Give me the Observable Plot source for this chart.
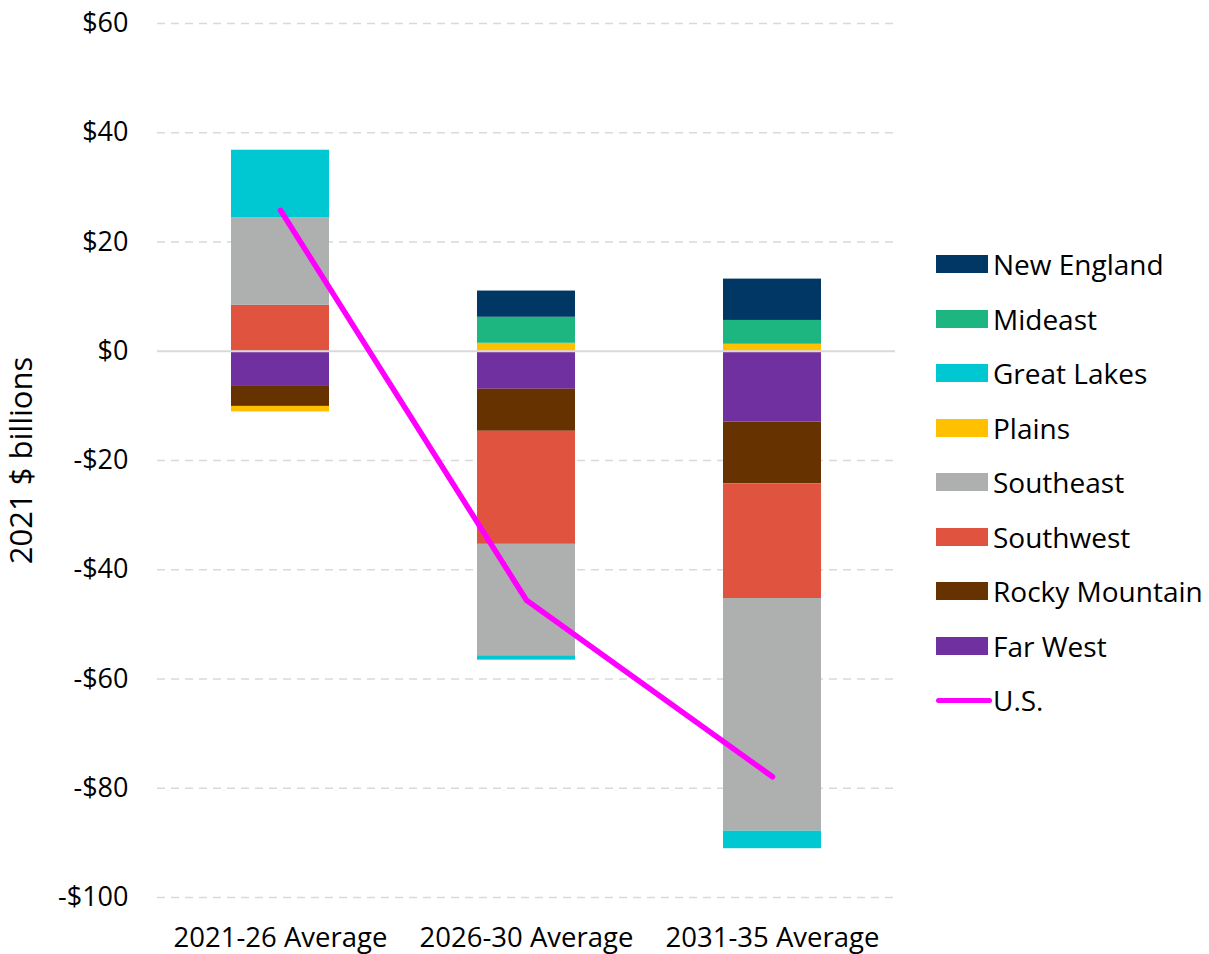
<!DOCTYPE html>
<html>
<head>
<meta charset="utf-8">
<script src="https://cdn.jsdelivr.net/npm/d3@7"></script>
<script src="https://cdn.jsdelivr.net/npm/@observablehq/plot@0.6"></script>
<style>
  html, body { margin: 0; padding: 0; background: #fff; }
  #wrap { position: relative; width: 1209px; height: 954px; font-family: "Open Sans", sans-serif; }
  #legend { position: absolute; left: 936px; top: 237px; }
  .row { display: flex; align-items: center; height: 54.5px; font-size: 28px; color: #000; white-space: nowrap; }
  .sw { width: 52px; height: 18px; margin-right: 5px; flex: none; }
  .ln { width: 56px; height: 5.5px; border-radius: 3px; margin-right: 1px; flex: none; }
</style>
</head>
<body>
<div id="wrap"><div id="chart"></div><div id="legend"></div></div>
<script>
// Categories
const periods = ["2021-26 Average", "2026-30 Average", "2031-35 Average"];
// Series (stack order, bottom-to-top from zero)
const regions = ["Far West", "Rocky Mountain", "Southwest", "Southeast", "Plains", "Great Lakes", "Mideast", "New England"];
const colors = ["#7030A0", "#663300", "#E0533F", "#AEB0B0", "#FFC000", "#00C8D2", "#1DB580", "#003764"];
// Values, 2021 $ billions, per period
const farWest     = [-6.3, -6.95, -12.97];
const rockyMtn    = [-3.8, -7.7, -11.3];
const southwest   = [8.4, -20.7, -21.0];
const southeast   = [16.0, -20.4, -42.6];
const plains      = [-1.0, 1.46, 1.28];
const greatLakes  = [12.4, -0.8, -3.2];
const mideast     = [0, 4.76, 4.36];
const newEngland  = [0, 4.8, 7.57];
const usTotal     = [25.8, -45.6, -77.9];
const yTicks = [-100, -80, -60, -40, -20, 0, 20, 40, 60];

const series = [farWest, rockyMtn, southwest, southeast, plains, greatLakes, mideast, newEngland];
const rows = [];
regions.forEach((r, i) => periods.forEach((p, j) => rows.push({period: p, region: r, value: series[i][j]})));
const usRows = periods.map((p, j) => ({period: p, value: usTotal[j]}));

const fmt = d => d < 0 ? `-$${-d}` : `$${d}`;

const chart = Plot.plot({
  width: 920,
  height: 954,
  marginTop: 23,
  marginBottom: 57,
  marginLeft: 157,
  marginRight: 25,
  style: {fontFamily: "'Open Sans', sans-serif", fontSize: "27px", color: "#000", background: "#fff"},
  x: {domain: periods, paddingInner: 0.6, paddingOuter: 0.3, label: null},
  y: {domain: [-100, 60], label: null},
  color: {domain: regions, range: colors},
  marks: [
    Plot.gridY(yTicks.filter(d => d !== 0), {stroke: "#d9d9d9", strokeOpacity: 1, strokeWidth: 1.5, strokeDasharray: "8,6"}),
    Plot.barY(rows, {x: "period", y: "value", fill: "region"}),
    Plot.ruleY([0], {stroke: "#d9d9d9", strokeWidth: 2}),
    Plot.line(usRows, {x: "period", y: "value", stroke: "#ff00ff", strokeWidth: 5.5, strokeLinecap: "round", strokeLinejoin: "round"}),
    Plot.axisY(yTicks, {tickSize: 0, tickPadding: 29, tickFormat: fmt, fontSize: 27, label: null}),
    Plot.axisY([], {tickSize: 0, fontSize: 31, label: "2021 $ billions", labelAnchor: "center", labelArrow: "none", labelOffset: 148}),
    Plot.axisX({tickSize: 0, tickPadding: 30, fontSize: 27.5, label: null})
  ]
});
document.getElementById("chart").appendChild(chart);

// Legend (reverse of stack order, then the U.S. line)
const legend = document.getElementById("legend");
[...regions].reverse().forEach(r => {
  const row = document.createElement("div");
  row.className = "row";
  row.innerHTML = `<div class="sw" style="background:${colors[regions.indexOf(r)]}"></div><span>${r}</span>`;
  legend.appendChild(row);
});
const usRow = document.createElement("div");
usRow.className = "row";
usRow.innerHTML = `<div class="ln" style="background:#ff00ff"></div><span>U.S.</span>`;
legend.appendChild(usRow);
</script>
</body>
</html>
